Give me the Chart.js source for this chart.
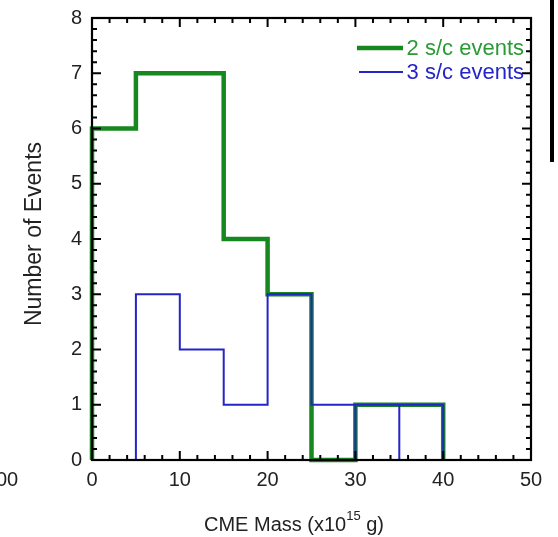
<!DOCTYPE html>
<html>
<head>
<meta charset="utf-8">
<script src="https://cdn.jsdelivr.net/npm/chart.js@4.4.1/dist/chart.umd.min.js"></script>
<style>
body { margin: 0; background: #fff; }
#wrap { position: relative; width: 558px; height: 537px; }
#bar { position: absolute; left: 550px; top: 0px; width: 4px; height: 162px; background: #000; }
</style>
</head>
<body>
<div id="wrap">
<canvas id="canvas" width="558" height="537"></canvas>
<div id="bar"></div>
</div>
<script>
// histogram bins (x in 1e15 g)
var edges2 = [0, 5, 10, 15, 20, 25, 30, 35, 40];
var counts2 = [6, 7, 7, 4, 3, 0, 1, 1];
var edges3 = [5, 10, 15, 20, 25, 30, 35, 40];
var counts3 = [3, 2, 1, 3, 1, 1, 1];
var xTicks = [0, 10, 20, 30, 40, 50];
var yTicks = [0, 1, 2, 3, 4, 5, 6, 7, 8];
var labels = ["2 s/c events", "3 s/c events"];

var green = "#16881f";
var blue = "#2424c8";
var font = "'Liberation Sans', Arial, sans-serif";

// step outline from bin edges and counts
function outline(edges, counts, dividers) {
	var pts = [{x: edges[0], y: 0}];
	for (var i = 0; i < counts.length; i++) {
		if (dividers && i > 0 && counts[i] == counts[i - 1]) {
			pts.push({x: edges[i], y: 0});
		}
		pts.push({x: edges[i], y: counts[i]});
		pts.push({x: edges[i + 1], y: counts[i]});
	}
	pts.push({x: edges[edges.length - 1], y: 0});
	return pts;
}

var frame = {
	id: "frame",
	afterDatasetsDraw: function(chart) {
		var c = chart.ctx, a = chart.chartArea;
		var xs = chart.scales.x, ys = chart.scales.y;
		c.save();
		c.strokeStyle = "#000";
		c.lineWidth = 2.2;
		c.strokeRect(a.left, a.top, a.right - a.left, a.bottom - a.top);
		c.lineWidth = 2;
		c.beginPath();
		for (var v = 0; v <= 50; v += 2) {
			var px = xs.getPixelForValue(v);
			var len = (v % 10 == 0) ? 9 : 5;
			c.moveTo(px, a.bottom); c.lineTo(px, a.bottom - len);
			c.moveTo(px, a.top); c.lineTo(px, a.top + len);
		}
		for (var k = 0; k <= 40; k++) {
			var py = ys.getPixelForValue(k / 5);
			var l2 = (k % 5 == 0) ? 9 : 5;
			c.moveTo(a.left, py); c.lineTo(a.left + l2, py);
			c.moveTo(a.right, py); c.lineTo(a.right - l2, py);
		}
		c.stroke();

		// legend
		c.textBaseline = "middle";
		c.textAlign = "right";
		c.font = "22px " + font;
		c.lineWidth = 4.5;
		c.strokeStyle = green;
		c.beginPath(); c.moveTo(357, 48); c.lineTo(403, 48); c.stroke();
		c.fillStyle = "#2a9a36";
		c.fillText(labels[0], 524, 49);
		c.lineWidth = 2;
		c.strokeStyle = blue;
		c.beginPath(); c.moveTo(359, 72); c.lineTo(403, 72); c.stroke();
		c.fillStyle = blue;
		c.fillText(labels[1], 524, 73);

		// axis titles
		c.fillStyle = "#222";
		c.font = "20px " + font;
		var t1 = "CME Mass (x10", t2 = "15", t3 = " g)";
		var w1 = c.measureText(t1).width, w3 = c.measureText(t3).width;
		c.font = "13px " + font;
		var w2 = c.measureText(t2).width;
		var x0 = 294 - (w1 + w2 + w3) / 2;
		c.textAlign = "left";
		c.textBaseline = "alphabetic";
		c.font = "20px " + font;
		c.fillText(t1, x0, 531);
		c.fillText(t3, x0 + w1 + w2, 531);
		c.font = "13px " + font;
		c.fillText(t2, x0 + w1, 520);

		c.save();
		c.translate(41, 234);
		c.rotate(-Math.PI / 2);
		c.textAlign = "center";
		c.font = "23px " + font;
		c.fillText("Number of Events", 0, 0);
		c.restore();

		// cut-off label from neighbouring panel
		c.font = "20px " + font;
		c.textAlign = "left";
		c.textBaseline = "middle";
		c.fillText("00", -4, 480);
		c.restore();
	}
};

var ctx = document.getElementById("canvas").getContext("2d");

var histChart = new Chart(ctx, {
	type: "line",
	data: {
		datasets: [
			{
				label: labels[0],
				data: outline(edges2, counts2, false),
				borderColor: green,
				borderWidth: 4.5,
				pointRadius: 0,
				tension: 0,
				fill: false,
				borderJoinStyle: "miter",
				clip: 6,
				order: 2
			},
			{
				label: labels[1],
				data: outline(edges3, counts3, true),
				borderColor: blue,
				borderWidth: 2,
				pointRadius: 0,
				tension: 0,
				fill: false,
				borderJoinStyle: "miter",
				clip: 6,
				order: 1
			}
		]
	},
	options: {
		responsive: false,
		devicePixelRatio: 1,
		animation: false,
		layout: { padding: { top: 18, right: 27, left: 0, bottom: 0 } },
		plugins: { legend: { display: false }, tooltip: { enabled: false } },
		scales: {
			x: {
				type: "linear",
				min: 0, max: 50,
				afterFit: function(s) { s.height = 77; s.paddingLeft = 0; s.paddingRight = 0; },
				afterBuildTicks: function(s) { s.ticks = xTicks.map(function(v) { return {value: v}; }); },
				grid: { display: false, drawTicks: false },
				border: { display: false },
				ticks: { color: "#222", font: { size: 20, family: font }, padding: 8, maxRotation: 0 }
			},
			y: {
				type: "linear",
				min: 0, max: 8,
				afterFit: function(s) { s.width = 92; s.paddingTop = 0; s.paddingBottom = 0; },
				afterBuildTicks: function(s) { s.ticks = yTicks.map(function(v) { return {value: v}; }); },
				grid: { display: false, drawTicks: false },
				border: { display: false },
				ticks: { color: "#222", font: { size: 20, family: font }, padding: 10 }
			}
		}
	},
	plugins: [frame]
});
</script>
</body>
</html>
